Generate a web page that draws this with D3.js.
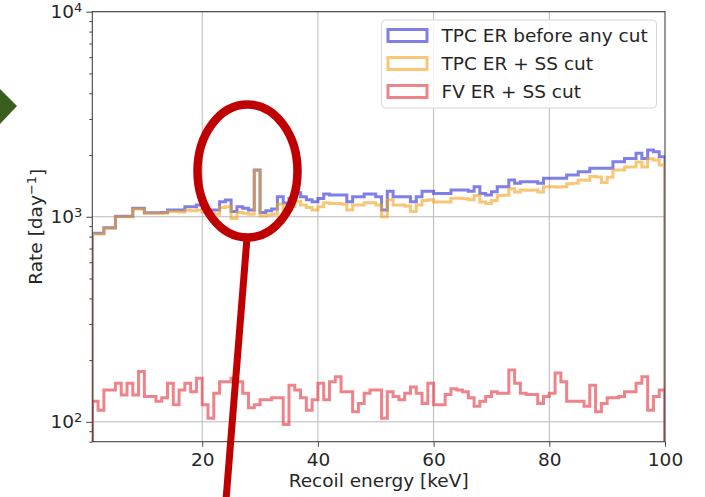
<!DOCTYPE html>
<html>
<head>
<meta charset="utf-8">
<script src="https://cdn.jsdelivr.net/npm/d3@7"></script>
<style>
  body { margin: 0; background: #fff; }
  text { font-family: "DejaVu Sans", sans-serif; fill: #262626; }
</style>
</head>
<body>
<script>
// bin edges in keV (1 keV bins from 1 to 100)
var energyEdges = d3.range(1, 101);

// rate per bin [day^-1]
var tpcAll = [830, 830, 885, 885, 1005, 1005, 1005, 1100, 1100, 1045,
  1045, 1045, 1050, 1078, 1078, 1078, 1118, 1118, 1140, 1100,
  1078, 1078, 1183, 1206, 1060, 1118, 1100, 1078, 1690, 1050,
  1070, 1090, 1252, 1166, 1229, 1310, 1252, 1210, 1183, 1229,
  1290, 1276, 1276, 1276, 1183, 1252, 1252, 1290, 1290, 1252,
  1080, 1330, 1252, 1252, 1252, 1183, 1252, 1330, 1330, 1300,
  1300, 1300, 1349, 1349, 1349, 1330, 1400, 1300, 1276, 1324,
  1400, 1400, 1510, 1455, 1481, 1481, 1481, 1455, 1539, 1539,
  1539, 1539, 1597, 1597, 1659, 1659, 1722, 1722, 1722, 1722,
  1855, 1855, 1925, 1925, 2038, 1925, 2115, 2075, 1960];

var tpcSS = [825, 825, 880, 880, 1000, 1000, 1000, 1090, 1090, 1040,
  1040, 1040, 1040, 1060, 1060, 1055, 1075, 1070, 1080, 1050,
  1040, 1030, 1110, 1120, 980, 1050, 1040, 1030, 1680, 1010,
  1020, 1030, 1150, 1080, 1120, 1190, 1140, 1110, 1080, 1120,
  1170, 1160, 1160, 1150, 1080, 1140, 1140, 1170, 1170, 1140,
  1000, 1210, 1140, 1140, 1130, 1060, 1140, 1200, 1210, 1180,
  1180, 1180, 1230, 1230, 1225, 1210, 1270, 1180, 1160, 1200,
  1270, 1275, 1370, 1320, 1350, 1345, 1350, 1320, 1400, 1400,
  1395, 1400, 1450, 1455, 1510, 1505, 1570, 1565, 1470, 1560,
  1690, 1690, 1750, 1750, 1850, 1750, 1920, 1890, 1790];

var fvSS = [126, 114, 143, 143, 154, 135, 154, 135, 176, 133,
  133, 126, 131, 154, 121, 143, 154, 140, 163, 121,
  104, 138, 157, 157, 163, 157, 138, 117, 121, 128,
  128, 131, 131, 97, 151, 143, 131, 114, 128, 154,
  128, 157, 166, 140, 140, 112, 123, 138, 143, 143,
  104, 140, 133, 128, 138, 148, 138, 123, 154, 121,
  121, 136, 145, 143, 140, 131, 119, 126, 133, 140,
  138, 138, 179, 154, 138, 136, 136, 123, 133, 138,
  173, 157, 126, 126, 126, 119, 151, 112, 123, 131,
  131, 133, 140, 140, 154, 166, 114, 133, 143];

var seriesNames = ["TPC ER before any cut", "TPC ER + SS cut", "FV ER + SS cut"];
var seriesColors = ["#2a2ad8", "#f2a21a", "#e2303c"];
var xTicks = [20, 40, 60, 80, 100];
var yMajor = [100, 1000, 10000];
var yMinor = [80, 90, 200, 300, 400, 500, 600, 700, 800, 900,
  2000, 3000, 4000, 5000, 6000, 7000, 8000, 9000];

var margins = { top: 11.7, left: 92.3, right: 40, bottom: 55.3 };
var width = 705, height = 497;

var svg = d3.select("body").append("svg")
  .attr("width", width)
  .attr("height", height);

var x = d3.scaleLinear().domain([1, 100]).range([margins.left, width - margins.right]);
var y = d3.scaleLog().domain([80, 10000]).range([height - margins.bottom, margins.top]);

var plotW = x.range()[1] - x.range()[0];
var plotH = y.range()[0] - y.range()[1];

svg.append("defs").append("clipPath").attr("id", "plotclip")
  .append("rect")
  .attr("x", x.range()[0]).attr("y", y.range()[1])
  .attr("width", plotW).attr("height", plotH);

// grid
var grid = svg.append("g");
grid.selectAll("line.vx").data(xTicks.slice(0, 4)).enter().append("line")
  .attr("x1", function(d) { return x(d); }).attr("x2", function(d) { return x(d); })
  .attr("y1", y.range()[0]).attr("y2", y.range()[1])
  .attr("stroke", "#b8b8b8").attr("stroke-width", 1);
grid.selectAll("line.hy").data(yMajor).enter().append("line")
  .attr("x1", x.range()[0]).attr("x2", x.range()[1])
  .attr("y1", function(d) { return y(d); }).attr("y2", function(d) { return y(d); })
  .attr("stroke", "#b8b8b8").attr("stroke-width", 1);

// step histograms
var stepPath = function(vals) {
  var pts = vals.map(function(v, i) { return [energyEdges[i], v]; });
  pts.push([energyEdges[vals.length], vals[vals.length - 1]]);
  var line = d3.line()
    .x(function(d) { return x(d[0]); })
    .y(function(d) { return y(d[1]); })
    .curve(d3.curveStepAfter);
  var bottom = y.range()[0] + 5;
  return "M" + x(energyEdges[0]) + "," + bottom + "L" + line(pts).slice(1) +
    "L" + x(energyEdges[vals.length]) + "," + bottom;
};

var hist = svg.append("g").attr("clip-path", "url(#plotclip)");
[tpcAll, tpcSS, fvSS].forEach(function(vals, k) {
  hist.append("path")
    .attr("d", stepPath(vals))
    .attr("fill", "none")
    .attr("stroke", seriesColors[k])
    .attr("stroke-opacity", 0.6)
    .attr("stroke-width", 3)
    .attr("stroke-linejoin", "miter");
});

// spines
svg.append("rect")
  .attr("x", x.range()[0]).attr("y", y.range()[1])
  .attr("width", plotW).attr("height", plotH)
  .attr("fill", "none").attr("stroke", "#444").attr("stroke-width", 1.1);

// axes
var xAxis = svg.append("g")
  .attr("transform", "translate(0," + y.range()[0] + ")")
  .call(d3.axisBottom(x).tickValues(xTicks).tickSize(5).tickPadding(6).tickFormat(d3.format("d")));
xAxis.select(".domain").remove();
xAxis.selectAll("line").attr("stroke", "#444");
xAxis.selectAll("text").style("font-size", "18.5px").attr("fill", "#262626");

var yAxis = svg.append("g")
  .attr("transform", "translate(" + x.range()[0] + ",0)")
  .call(d3.axisLeft(y).tickValues(yMajor).tickSize(6).tickPadding(4).tickFormat(""));
yAxis.select(".domain").remove();
yAxis.selectAll("line").attr("stroke", "#444");
yAxis.selectAll(".tick text").each(function(d) {
  var t = d3.select(this).style("font-size", "18.5px").attr("fill", "#262626");
  t.append("tspan").text("10");
  t.append("tspan").attr("dy", "-0.45em").style("font-size", "13px").text(Math.round(Math.log10(d)));
});

var yMinorAxis = svg.append("g")
  .attr("transform", "translate(" + x.range()[0] + ",0)")
  .call(d3.axisLeft(y).tickValues(yMinor).tickSize(3).tickFormat(""));
yMinorAxis.select(".domain").remove();
yMinorAxis.selectAll("line").attr("stroke", "#444");

// axis labels
svg.append("text")
  .attr("x", (x.range()[0] + x.range()[1]) / 2)
  .attr("y", 487)
  .attr("text-anchor", "middle")
  .style("font-size", "18.5px")
  .text("Recoil energy [keV]");

var yl = svg.append("text")
  .attr("transform", "translate(42," + (y.range()[0] + y.range()[1]) / 2 + ") rotate(-90)")
  .attr("text-anchor", "middle")
  .style("font-size", "18.5px");
yl.append("tspan").text("Rate [day");
yl.append("tspan").attr("dy", "-0.45em").style("font-size", "13px").text("\u22121");
yl.append("tspan").attr("dy", "0.45em").text("]");

// legend
var legend = svg.append("g");
legend.append("rect")
  .attr("x", 381.5).attr("y", 20).attr("width", 275).attr("height", 88)
  .attr("rx", 4)
  .attr("fill", "#fff").attr("fill-opacity", 0.85)
  .attr("stroke", "#d6d6d6").attr("stroke-width", 1);
seriesNames.forEach(function(name, k) {
  var cy = 35.5 + k * 28;
  legend.append("rect")
    .attr("x", 388).attr("y", cy - 6)
    .attr("width", 39).attr("height", 12)
    .attr("fill", "#fff")
    .attr("stroke", seriesColors[k]).attr("stroke-opacity", 0.6).attr("stroke-width", 3);
  legend.append("text")
    .attr("x", 441.5).attr("y", cy + 6.5)
    .style("font-size", "18.5px")
    .text(name);
});

// annotations
svg.append("path")
  .attr("d", "M0,89L17,106L0,124Z")
  .attr("fill", "#3b5e1f");

svg.append("ellipse")
  .attr("cx", 247.5).attr("cy", 171)
  .attr("rx", 50).attr("ry", 66.5)
  .attr("fill", "none")
  .attr("stroke", "#c00000").attr("stroke-width", 8.5);

svg.append("line")
  .attr("x1", 247).attr("y1", 238)
  .attr("x2", 226).attr("y2", 500)
  .attr("stroke", "#c00000").attr("stroke-width", 7);
</script>
</body>
</html>
